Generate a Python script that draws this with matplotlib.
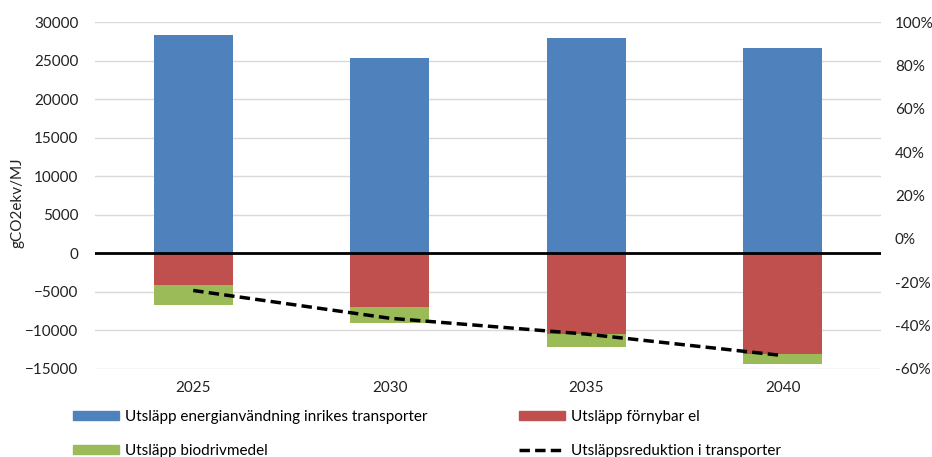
import matplotlib
matplotlib.use("Agg")
import matplotlib.pyplot as plt
from matplotlib.patches import Patch
from matplotlib.lines import Line2D
from matplotlib.ticker import FuncFormatter

plt.rcParams['font.family'] = ['Lato', 'DejaVu Sans']

years = ["2025", "2030", "2035", "2040"]
transport = [28300, 25350, 27950, 26600]
fornybar_el = [-4100, -6950, -10450, -13050]
biodrivmedel = [-2650, -2100, -1750, -1250]
reduktion = [-23.8, -36.6, -43.9, -53.8]

c_blue = "#4f81bd"
c_red = "#c0504d"
c_green = "#9bbb59"
grid_c = "#d9d9d9"

fig = plt.figure(figsize=(9.32, 4.57), dpi=100)
ax = fig.add_axes([95/932, 1-369/457, (881-95)/932, (369-22)/457])
x = list(range(len(years)))
w = 0.4

ax.bar(x, transport, width=w, color=c_blue, zorder=2)
ax.bar(x, fornybar_el, width=w, color=c_red, zorder=2)
ax.bar(x, biodrivmedel, width=w, bottom=fornybar_el, color=c_green, zorder=2)

ax.set_ylim(-15000, 30000)
ax.set_xlim(-0.5, 3.5)
ax.set_yticks(range(-15000, 30001, 5000))
ax.yaxis.grid(True, color=grid_c, linewidth=1, zorder=0)
ax.axhline(0, color="black", linewidth=2, zorder=3)
ax.set_xticks(x)
ax.set_xticklabels(years)
ax.tick_params(length=0, labelsize=11, colors="#222222")
ax.tick_params(axis='x', pad=9)
ax.tick_params(axis='y', pad=12)
for s in ax.spines.values():
    s.set_visible(False)
ax.set_ylabel("gCO2ekv/MJ", fontsize=11, color="#222222")
ax.yaxis.set_label_coords(-0.090, 0.48)

ax2 = ax.twinx()
ax2.plot(x, reduktion, color="black", linestyle=(0, (3, 1.5)), linewidth=2.5, zorder=4)
ax2.set_ylim(-60, 100)
ax2.set_yticks(range(-60, 101, 20))
ax2.yaxis.set_major_formatter(FuncFormatter(lambda v, p: f"{int(v)}%"))
ax2.tick_params(length=0, labelsize=11, colors="#222222", pad=10)
for s in ax2.spines.values():
    s.set_visible(False)

h1 = [Patch(color=c_blue), Patch(color=c_green)]
l1 = ["Utsläpp energianvändning inrikes transporter", "Utsläpp biodrivmedel"]
h2 = [Patch(color=c_red), Line2D([0], [0], color="black", linestyle=(0, (3, 1.5)), linewidth=2.5)]
l2 = ["Utsläpp förnybar el", "Utsläppsreduktion i transporter"]
common = dict(frameon=False, fontsize=11, handlelength=3.0, handleheight=0.5,
              handletextpad=0.4, labelspacing=1.3, borderpad=0, borderaxespad=0,
              loc="center left")
fig.legend(h1, l1, bbox_to_anchor=(73/932, 1-434/457), **common)
fig.legend(h2, l2, bbox_to_anchor=(519/932, 1-434/457), **common)

fig.savefig("out.png", dpi=100)
